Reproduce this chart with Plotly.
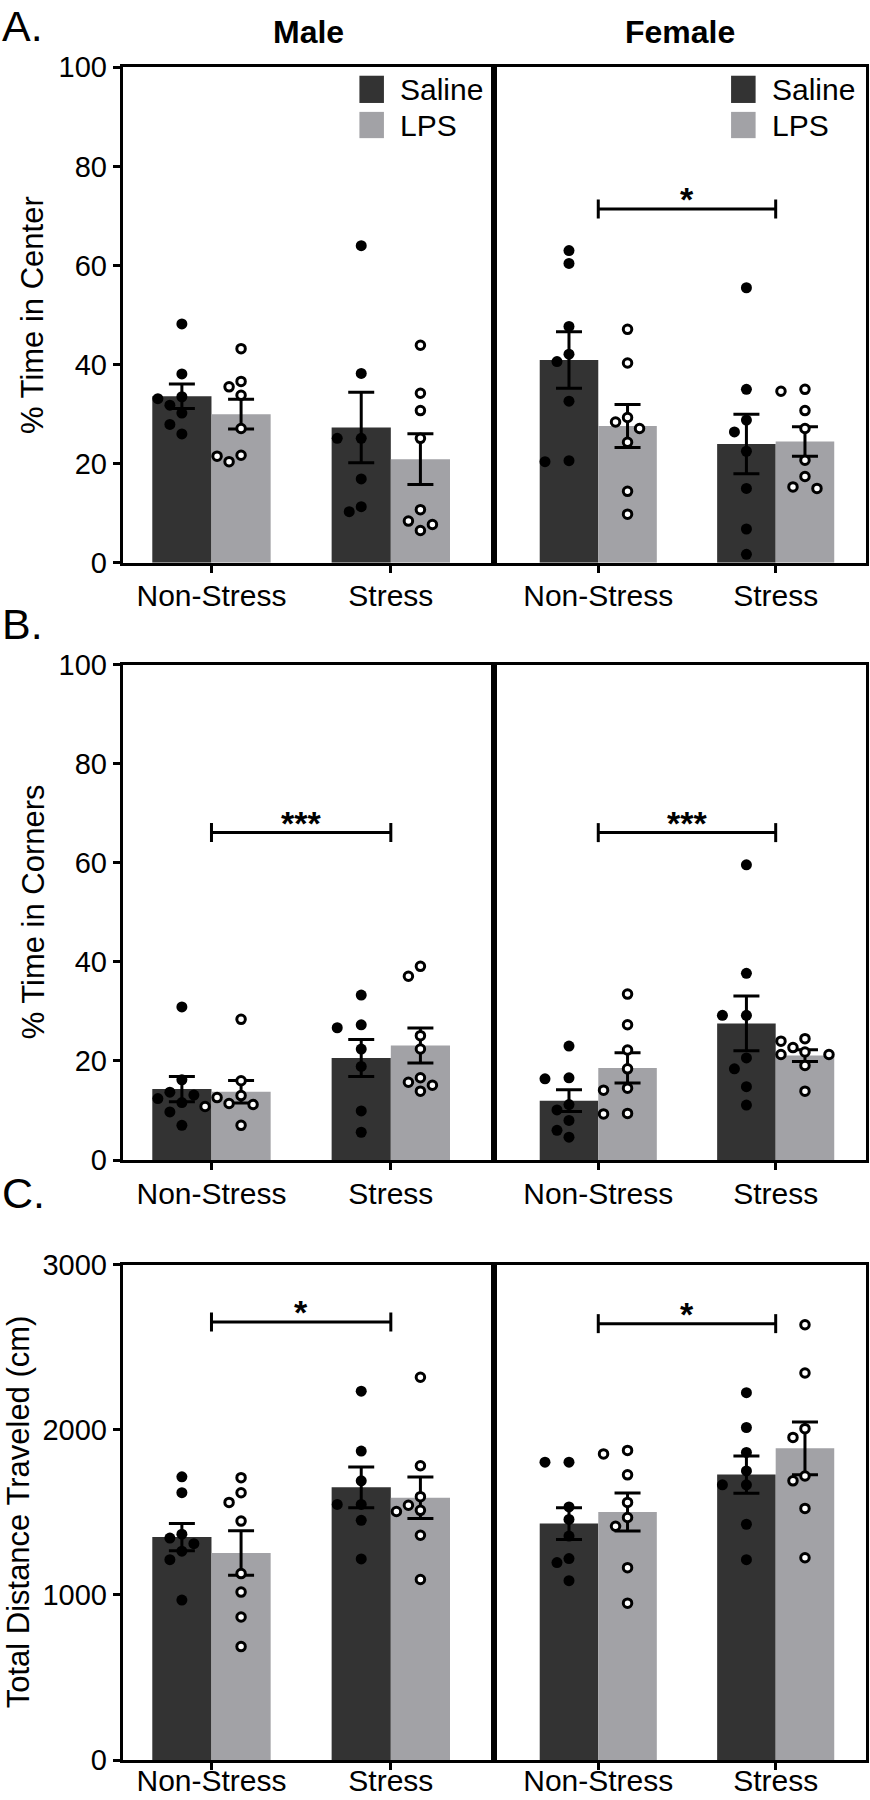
import numpy as np
import plotly.graph_objects as go

# ---------------- data ----------------
conditions = ["Non-Stress", "Stress"]
sexes = ["Male", "Female"]
treatments = ["Saline", "LPS"]

# Panel A: % Time in Center  (per animal)
center_male_saline_nonstress = [48.2, 38.1, 33.5, 33.1, 31.8, 30.2, 27.9, 26.0]
center_male_saline_stress = [64.0, 38.2, 25.1, 25.1, 16.9, 10.3, 11.3]
center_male_lps_nonstress = [43.2, 36.6, 35.5, 33.8, 27.1, 20.4, 21.7, 21.5]
center_male_lps_stress = [43.9, 34.2, 30.7, 25.1, 8.4, 6.5, 10.7, 7.7]
center_female_saline_nonstress = [63.0, 60.4, 47.7, 42.1, 40.6, 32.6, 20.4, 20.6]
center_female_saline_stress = [55.5, 35.0, 28.8, 26.4, 22.5, 15.0, 6.8, 1.7]
center_female_lps_nonstress = [47.1, 40.3, 29.3, 28.4, 27.1, 24.3, 14.4, 9.8]
center_female_lps_stress = [34.6, 35.0, 30.7, 27.1, 20.7, 17.4, 15.0, 15.3]

# Panel B: % Time in Corners
corners_male_saline_nonstress = [30.9, 16.2, 13.7, 13.1, 12.4, 11.6, 9.7, 7.0]
corners_male_saline_stress = [33.3, 26.7, 27.3, 22.4, 18.9, 9.9, 5.6]
corners_male_lps_nonstress = [28.4, 16.0, 12.6, 13.0, 11.2, 10.8, 11.4, 7.0]
corners_male_lps_stress = [39.1, 37.1, 25.1, 22.4, 16.6, 15.7, 15.1, 13.9]
corners_female_saline_nonstress = [23.0, 16.4, 16.6, 11.2, 10.1, 8.0, 6.0, 4.6]
corners_female_saline_stress = [59.6, 37.7, 29.2, 29.2, 20.6, 18.4, 14.8, 11.1]
corners_female_lps_nonstress = [33.5, 27.3, 22.2, 18.4, 14.1, 14.5, 9.3, 9.4]
corners_female_lps_stress = [24.5, 24.0, 22.7, 21.8, 21.3, 21.3, 19.1, 13.9]

# Panel C: Total Distance Traveled (cm)
distance_male_saline_nonstress = [1715, 1619, 1344, 1368, 1265, 1310, 1213, 969]
distance_male_saline_stress = [2234, 1871, 1691, 1548, 1548, 1452, 1218]
distance_male_lps_nonstress = [1710, 1619, 1560, 1447, 1129, 1017, 866, 687]
distance_male_lps_stress = [2318, 1782, 1595, 1543, 1512, 1505, 1361, 1093]
distance_female_saline_nonstress = [1804, 1804, 1533, 1457, 1356, 1220, 1196, 1086]
distance_female_saline_stress = [2225, 2014, 1863, 1751, 1667, 1667, 1428, 1213]
distance_female_lps_nonstress = [1875, 1854, 1727, 1560, 1469, 1416, 1165, 950]
distance_female_lps_stress = [2636, 2344, 2007, 1954, 1720, 1691, 1524, 1225]

panel_letters = ["A.", "B.", "C."]
panel_titles = ["% Time in Center", "% Time in Corners", "Total Distance Traveled (cm)"]
y_tickvals = [[0, 20, 40, 60, 80, 100], [0, 20, 40, 60, 80, 100], [0, 1000, 2000, 3000]]
y_max = [100, 100, 3000]

# significance brackets: panel index, sex, bracket height, label
sig_panel = [0, 1, 1, 2, 2]
sig_sex = ["Female", "Male", "Female", "Male", "Female"]
sig_y = [71.4, 66.1, 66.1, 2653, 2643]
sig_text = ["*", "***", "***", "*", "*"]

data = {
    (0, "Male", "Saline"): [center_male_saline_nonstress, center_male_saline_stress],
    (0, "Male", "LPS"): [center_male_lps_nonstress, center_male_lps_stress],
    (0, "Female", "Saline"): [center_female_saline_nonstress, center_female_saline_stress],
    (0, "Female", "LPS"): [center_female_lps_nonstress, center_female_lps_stress],
    (1, "Male", "Saline"): [corners_male_saline_nonstress, corners_male_saline_stress],
    (1, "Male", "LPS"): [corners_male_lps_nonstress, corners_male_lps_stress],
    (1, "Female", "Saline"): [corners_female_saline_nonstress, corners_female_saline_stress],
    (1, "Female", "LPS"): [corners_female_lps_nonstress, corners_female_lps_stress],
    (2, "Male", "Saline"): [distance_male_saline_nonstress, distance_male_saline_stress],
    (2, "Male", "LPS"): [distance_male_lps_nonstress, distance_male_lps_stress],
    (2, "Female", "Saline"): [distance_female_saline_nonstress, distance_female_saline_stress],
    (2, "Female", "LPS"): [distance_female_lps_nonstress, distance_female_lps_stress],
}

# ---------------- layout / style ----------------
W, H = 870, 1800
FONT = "Liberation Sans, Arial, Helvetica, sans-serif"
DARK = "#333333"
LIGHT = "#a2a2a6"
BAR_W = 0.33
LW = 3

x_px = {"Male": (122.7, 494.3), "Female": (494.3, 866.0)}
x_rng = {"Male": (-0.495, 1.577), "Female": (-0.586, 1.509)}
y_px = [(67.3, 562.7), (664.7, 1160.0), (1264.7, 1760.0)]
xlabel_standoff = [-3, -2, -15]
fill = {"Saline": DARK, "LPS": LIGHT}


def ax_ids(idx):
    suf = "" if idx == 1 else str(idx)
    return "x" + suf, "y" + suf, "xaxis" + suf, "yaxis" + suf


def swarm(values, ppy, ppx, diam=12.5, step=12.0):
    """Simple beeswarm: horizontal offsets (data units) avoiding overlap."""
    vals = np.asarray(values, dtype=float)
    order = np.argsort(-vals, kind="stable")
    placed = []
    offs = np.zeros(len(vals))
    cands = [0.0]
    for k in range(1, 10):
        cands += [-k * step, k * step]
    for i in order:
        yy = vals[i] * ppy
        for c in cands:
            if all((c - px) ** 2 + (yy - py) ** 2 >= diam ** 2 for px, py in placed):
                break
        placed.append((c, yy))
        offs[i] = c / ppx
    return offs


fig = go.Figure()
layout = dict(
    width=W, height=H, margin=dict(l=0, r=0, t=0, b=0, pad=0, autoexpand=False),
    paper_bgcolor="white", plot_bgcolor="white",
    font=dict(family=FONT, size=30, color="black"),
    showlegend=False, barmode="overlay",
)
shapes, annotations = [], []

for p in range(3):
    top, bot = y_px[p]
    ppy = (bot - top) / y_max[p]
    for s, sex in enumerate(sexes):
        idx = p * 2 + s + 1
        xa, ya, xkey, ykey = ax_ids(idx)
        x0px, x1px = x_px[sex]
        ppx = (x1px - x0px) / (x_rng[sex][1] - x_rng[sex][0])
        layout[xkey] = dict(
            domain=[x0px / W, x1px / W], anchor=ya, range=list(x_rng[sex]),
            tickvals=list(range(len(conditions))), ticktext=conditions,
            ticks="outside", ticklen=7, tickwidth=LW, tickcolor="black",
            ticklabelstandoff=xlabel_standoff[p],
            showline=True, linewidth=LW, linecolor="black", mirror=True,
            showgrid=False, zeroline=False, fixedrange=True, automargin=False,
            tickfont=dict(size=30, color="black"),
        )
        layout[ykey] = dict(
            domain=[1 - bot / H, 1 - top / H], anchor=xa, range=[0, y_max[p]],
            tickvals=y_tickvals[p], showticklabels=(s == 0),
            ticks="outside" if s == 0 else "", ticklen=7, tickwidth=LW, tickcolor="black",
            showline=True, linewidth=LW, linecolor="black", mirror=True,
            showgrid=False, zeroline=False, fixedrange=True, automargin=False,
            tickfont=dict(size=29, color="black"),
        )
        for t, tr in enumerate(treatments):
            groups = data[(p, sex, tr)]
            means = [float(np.mean(g)) for g in groups]
            sems = [float(np.std(g, ddof=1) / np.sqrt(len(g))) for g in groups]
            fig.add_trace(go.Bar(
                x=list(range(len(conditions))), y=means, width=BAR_W,
                offset=-BAR_W if t == 0 else 0.0,
                marker=dict(color=fill[tr], line=dict(width=0)),
                error_y=dict(type="data", array=sems, visible=True,
                             color="black", thickness=LW, width=13),
                xaxis=xa, yaxis=ya, name=tr, hoverinfo="skip",
            ))
        for t, tr in enumerate(treatments):
            groups = data[(p, sex, tr)]
            centre = -BAR_W / 2 if t == 0 else BAR_W / 2
            xs, ys = [], []
            for c, g in enumerate(groups):
                offs = swarm(g, ppy, ppx)
                xs += list(c + centre + offs)
                ys += list(g)
            if tr == "Saline":
                mk = dict(symbol="circle", size=11, color="black", line=dict(width=0))
            else:
                mk = dict(symbol="circle", size=8.5, color="white",
                          line=dict(width=3, color="black"))
            fig.add_trace(go.Scatter(x=xs, y=ys, mode="markers", marker=mk,
                                     xaxis=xa, yaxis=ya, name=tr, hoverinfo="skip",
                                     cliponaxis=False))
        # legend (panel A only)
        if p == 0:
            for t, tr in enumerate(treatments):
                yt = [0.983, 0.910][t]
                yb = [0.928, 0.857][t]
                shapes.append(dict(type="rect", xref=f"{xa} domain", yref=f"{ya} domain",
                                   x0=0.637, x1=0.703, y0=yb, y1=yt,
                                   fillcolor=fill[tr], line=dict(width=0)))
                annotations.append(dict(text=tr, xref=f"{xa} domain", yref=f"{ya} domain",
                                        x=0.742, y=(yt + yb) / 2, xanchor="left",
                                        yanchor="middle", showarrow=False,
                                        font=dict(size=30, color="black")))

# significance brackets
for k in range(len(sig_y)):
    p = sig_panel[k]
    s = sexes.index(sig_sex[k])
    idx = p * 2 + s + 1
    top, bot = y_px[p]
    h = 9.5 * y_max[p] / (bot - top)
    xa, ya, _, _ = ax_ids(idx)
    yv = sig_y[k]
    for (ax0, ay0, ax1, ay1) in [(0, yv, 1, yv), (0, yv - h, 0, yv + h), (1, yv - h, 1, yv + h)]:
        shapes.append(dict(type="line", xref=xa, yref=ya, x0=ax0, y0=ay0, x1=ax1, y1=ay1,
                           line=dict(color="black", width=LW)))
    annotations.append(dict(text=f"<b>{sig_text[k]}</b>", xref=xa, yref=ya, x=0.5, y=yv,
                            yanchor="middle", yshift=10, showarrow=False,
                            font=dict(size=34, color="black")))

# sex titles
for sex in sexes:
    x0px, x1px = x_px[sex]
    annotations.append(dict(text=f"<b>{sex}</b>", xref="paper", yref="paper",
                            x=(x0px + x1px) / 2 / W, y=1 - 32 / H, xanchor="center",
                            yanchor="middle", showarrow=False,
                            font=dict(size=32, color="black")))

# panel letters and y-axis titles
letter_y = [0, 624, 1193]
letter_anchor = ["top", "middle", "middle"]
title_x = [32, 33, 18]
for p in range(3):
    top, bot = y_px[p]
    annotations.append(dict(text=panel_letters[p], xref="paper", yref="paper",
                            x=0, y=1 - letter_y[p] / H, xanchor="left",
                            yanchor=letter_anchor[p], showarrow=False,
                            font=dict(size=43, color="black")))
    annotations.append(dict(text=panel_titles[p], xref="paper", yref="paper",
                            x=title_x[p] / W, y=1 - (top + bot) / 2 / H,
                            xanchor="center", yanchor="middle", textangle=-90,
                            showarrow=False, font=dict(size=31, color="black")))

layout["shapes"] = shapes
layout["annotations"] = annotations
fig.update_layout(**layout)

fig.write_html("out.html", config={"displayModeBar": False},
               post_script="document.body.style.margin='0';")
